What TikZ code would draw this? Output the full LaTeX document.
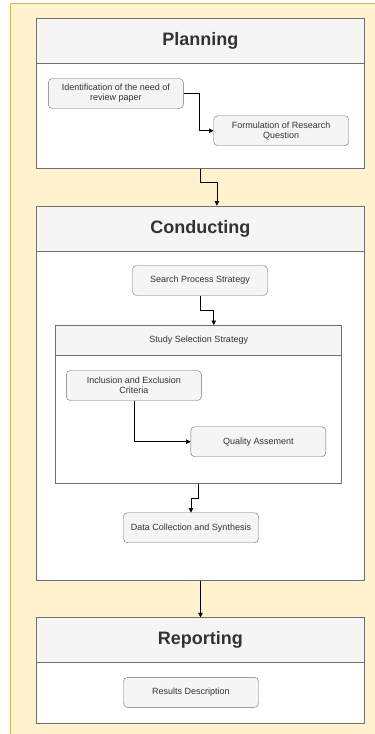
\documentclass[tikz,border=0pt]{standalone}
\usepackage{fontspec}
\setmainfont{Liberation Sans}
\usetikzlibrary{arrows.meta,positioning,calc}
\definecolor{bgYellow}{HTML}{FFF2CC}
\definecolor{bgBorder}{HTML}{D6B656}
\definecolor{headGray}{HTML}{F5F5F5}
\definecolor{lineGray}{HTML}{6F6F6F}
\definecolor{txtGray}{HTML}{333333}
\tikzset{
	stage/.style={
		draw=lineGray,
		fill=white,
		line width=0.9pt,
		anchor=north west,
		inner sep=0pt
	},
	stagehead/.style={
		stage,
		fill=headGray,
		text=txtGray,
		font=\bfseries\fontsize{18}{20}\selectfont
	},
	subhead/.style={
		stage,
		fill=headGray,
		text=txtGray,
		font=\fontsize{9}{10}\selectfont
	},
	task/.style={
		draw=lineGray,
		fill=headGray,
		rounded corners=4pt,
		align=center,
		inner sep=2pt,
		minimum width=135pt,
		minimum height=30pt,
		text=txtGray,
		font=\fontsize{9}{10}\selectfont
	},
	flow/.style={-{Triangle[length=4.5pt,width=4.5pt]}, black, line width=0.6pt}
}
\begin{document}
\begin{tikzpicture}[x=1pt, y=-1pt]
		\useasboundingbox (0,0) rectangle (375,734);
		\fill[bgYellow] (10.5,3.5) rectangle (375,734);
		\draw[bgBorder, line width=0.9pt] (10.5,734) -- (10.5,3.5) -- (375,3.5);
		\node[stage, minimum width=328.6pt, minimum height=149.4pt] (plan) at (35.7,18.3) {};
		\node[stagehead, minimum width=328.6pt, minimum height=44.4pt] (planHead) at (35.7,18.3) {Planning};
		\node[task] (ident) at (115.8,93.5) {Identification of the need of\\review paper};
		\node[task] (formu) at (281.2,130.7) {Formulation of Research\\Question};
		\draw[flow] (ident.east) -- ++(15.7,0) |- (formu.west);
		\node[stage, minimum width=328.6pt, minimum height=374.3pt] (cond) at (35.7,205.7) {};
		\node[stagehead, minimum width=328.6pt, minimum height=45pt] (condHead) at (35.7,205.7) {Conducting};
		\draw[flow] (plan.south) -- ++(0,14) -| ($(cond.north)+(16.5,0)$);
		\node[task] (search) at (200,280.5) {Search Process Strategy};
		\node[stage, minimum width=286pt, minimum height=157.7pt] (study) at (55.3,325) {};
		\node[subhead, minimum width=286pt, minimum height=30pt] (studyHead) at (55.3,325) {Study Selection Strategy};
		\draw[flow] (search.south) -- ++(0,14.7) -| ($(study.north)+(15,0)$);
		\node[task] (incl) at (133.8,385.5) {Inclusion and Exclusion\\Criteria};
		\node[task] (qual) at (258.3,441.7) {Quality Assement};
		\draw[flow] (incl.south) |- (qual.west);
		\node[task] (data) at (191,527.7) {Data Collection and Synthesis};
		\draw[flow] (study.south) -- ++(0,15) -| (data.north);
		\node[stage, minimum width=328.6pt, minimum height=105.4pt] (rep) at (35.7,617.3) {};
		\node[stagehead, minimum width=328.6pt, minimum height=45pt] (repHead) at (35.7,617.3) {Reporting};
		\draw[flow] (cond.south) -- (rep.north);
		\node[task] (results) at (191,692.3) {Results Description};
	\end{tikzpicture}
\end{document}
